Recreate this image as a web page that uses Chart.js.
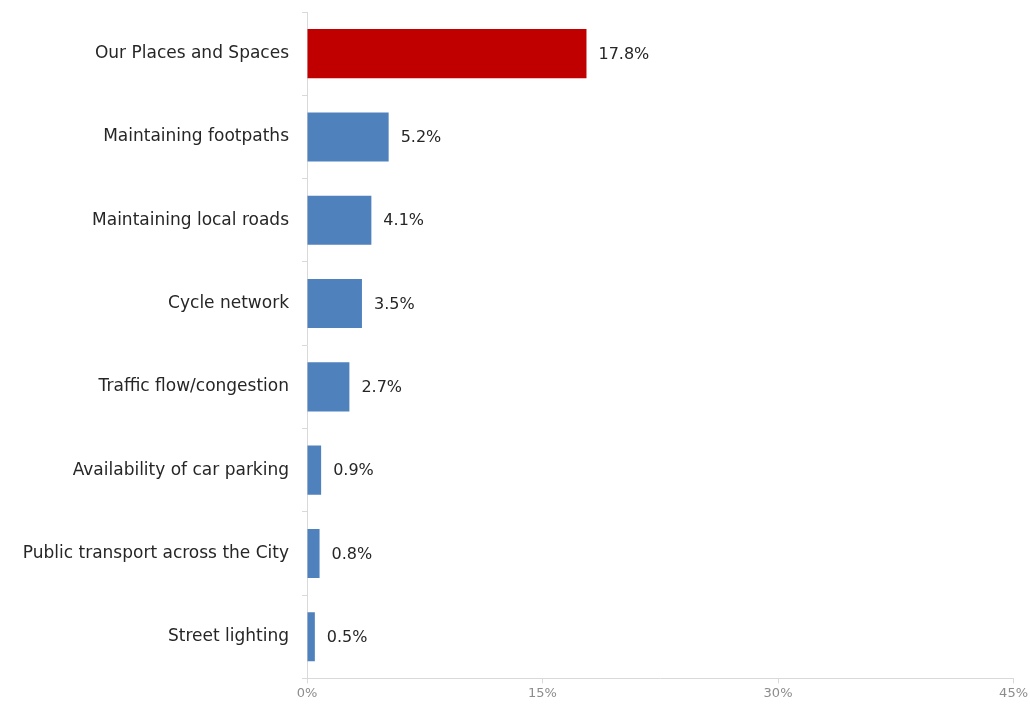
<!DOCTYPE html>
<html>
<head>
<meta charset="utf-8">
<script src="https://cdn.jsdelivr.net/npm/chart.js@4"></script>
<style>
  html, body { margin: 0; padding: 0; background: #fff; }
  #wrap { width: 1030px; height: 705px; }
</style>
</head>
<body>
<div id="wrap"><canvas id="chart"></canvas></div>
<script>
const categories = [
  "Our Places and Spaces",
  "Maintaining footpaths",
  "Maintaining local roads",
  "Cycle network",
  "Traffic flow/congestion",
  "Availability of car parking",
  "Public transport across the City",
  "Street lighting"
];
const values = [17.8, 5.2, 4.1, 3.5, 2.7, 0.9, 0.8, 0.5];
const xTicks = [0, 15, 30, 45];

const FONT = "'DejaVu Sans', 'Open Sans', sans-serif";
const barColors = values.map((v, i) => i === 0 ? "#C00000" : "#4F81BD");

// draws the "17.8%" style labels at the end of each bar
const valueLabels = {
  id: "valueLabels",
  afterDatasetsDraw(chart) {
    const ctx = chart.ctx;
    const meta = chart.getDatasetMeta(0);
    ctx.save();
    ctx.font = "16px " + FONT;
    ctx.fillStyle = "#262626";
    ctx.textAlign = "left";
    ctx.textBaseline = "middle";
    meta.data.forEach((bar, i) => {
      ctx.fillText(values[i].toFixed(1) + "%", bar.x + 12, bar.y + 1);
    });
    ctx.restore();
  }
};

new Chart(document.getElementById("chart"), {
  type: "bar",
  data: {
    labels: categories,
    datasets: [{
      data: values,
      backgroundColor: barColors,
      categoryPercentage: 1,
      barPercentage: 0.59
    }]
  },
  options: {
    indexAxis: "y",
    responsive: true,
    maintainAspectRatio: false,
    animation: false,
    layout: { padding: { top: 12, right: 8, left: 0, bottom: 2 } },
    plugins: {
      legend: { display: false },
      tooltip: { enabled: false }
    },
    scales: {
      x: {
        min: 0,
        max: 45,
        afterBuildTicks: axis => { axis.ticks = xTicks.map(v => ({ value: v })); },
        border: { color: "#d9d9d9" },
        grid: { drawOnChartArea: false, tickLength: 5, color: "#d9d9d9" },
        ticks: {
          color: "#8c8c8c",
          font: { family: FONT, size: 13 },
          padding: 2,
          callback: v => v + "%"
        }
      },
      y: {
        afterFit: axis => {
          axis.width = 307;
          axis.paddingTop = 0;
          axis.paddingBottom = 0;
        },
        border: { color: "#d9d9d9" },
        grid: { drawOnChartArea: false, tickLength: 5, color: "#d9d9d9", offset: true },
        ticks: {
          color: "#262626",
          font: { family: FONT, size: 17 },
          padding: 13
        }
      }
    }
  },
  plugins: [valueLabels]
});
</script>
</body>
</html>
